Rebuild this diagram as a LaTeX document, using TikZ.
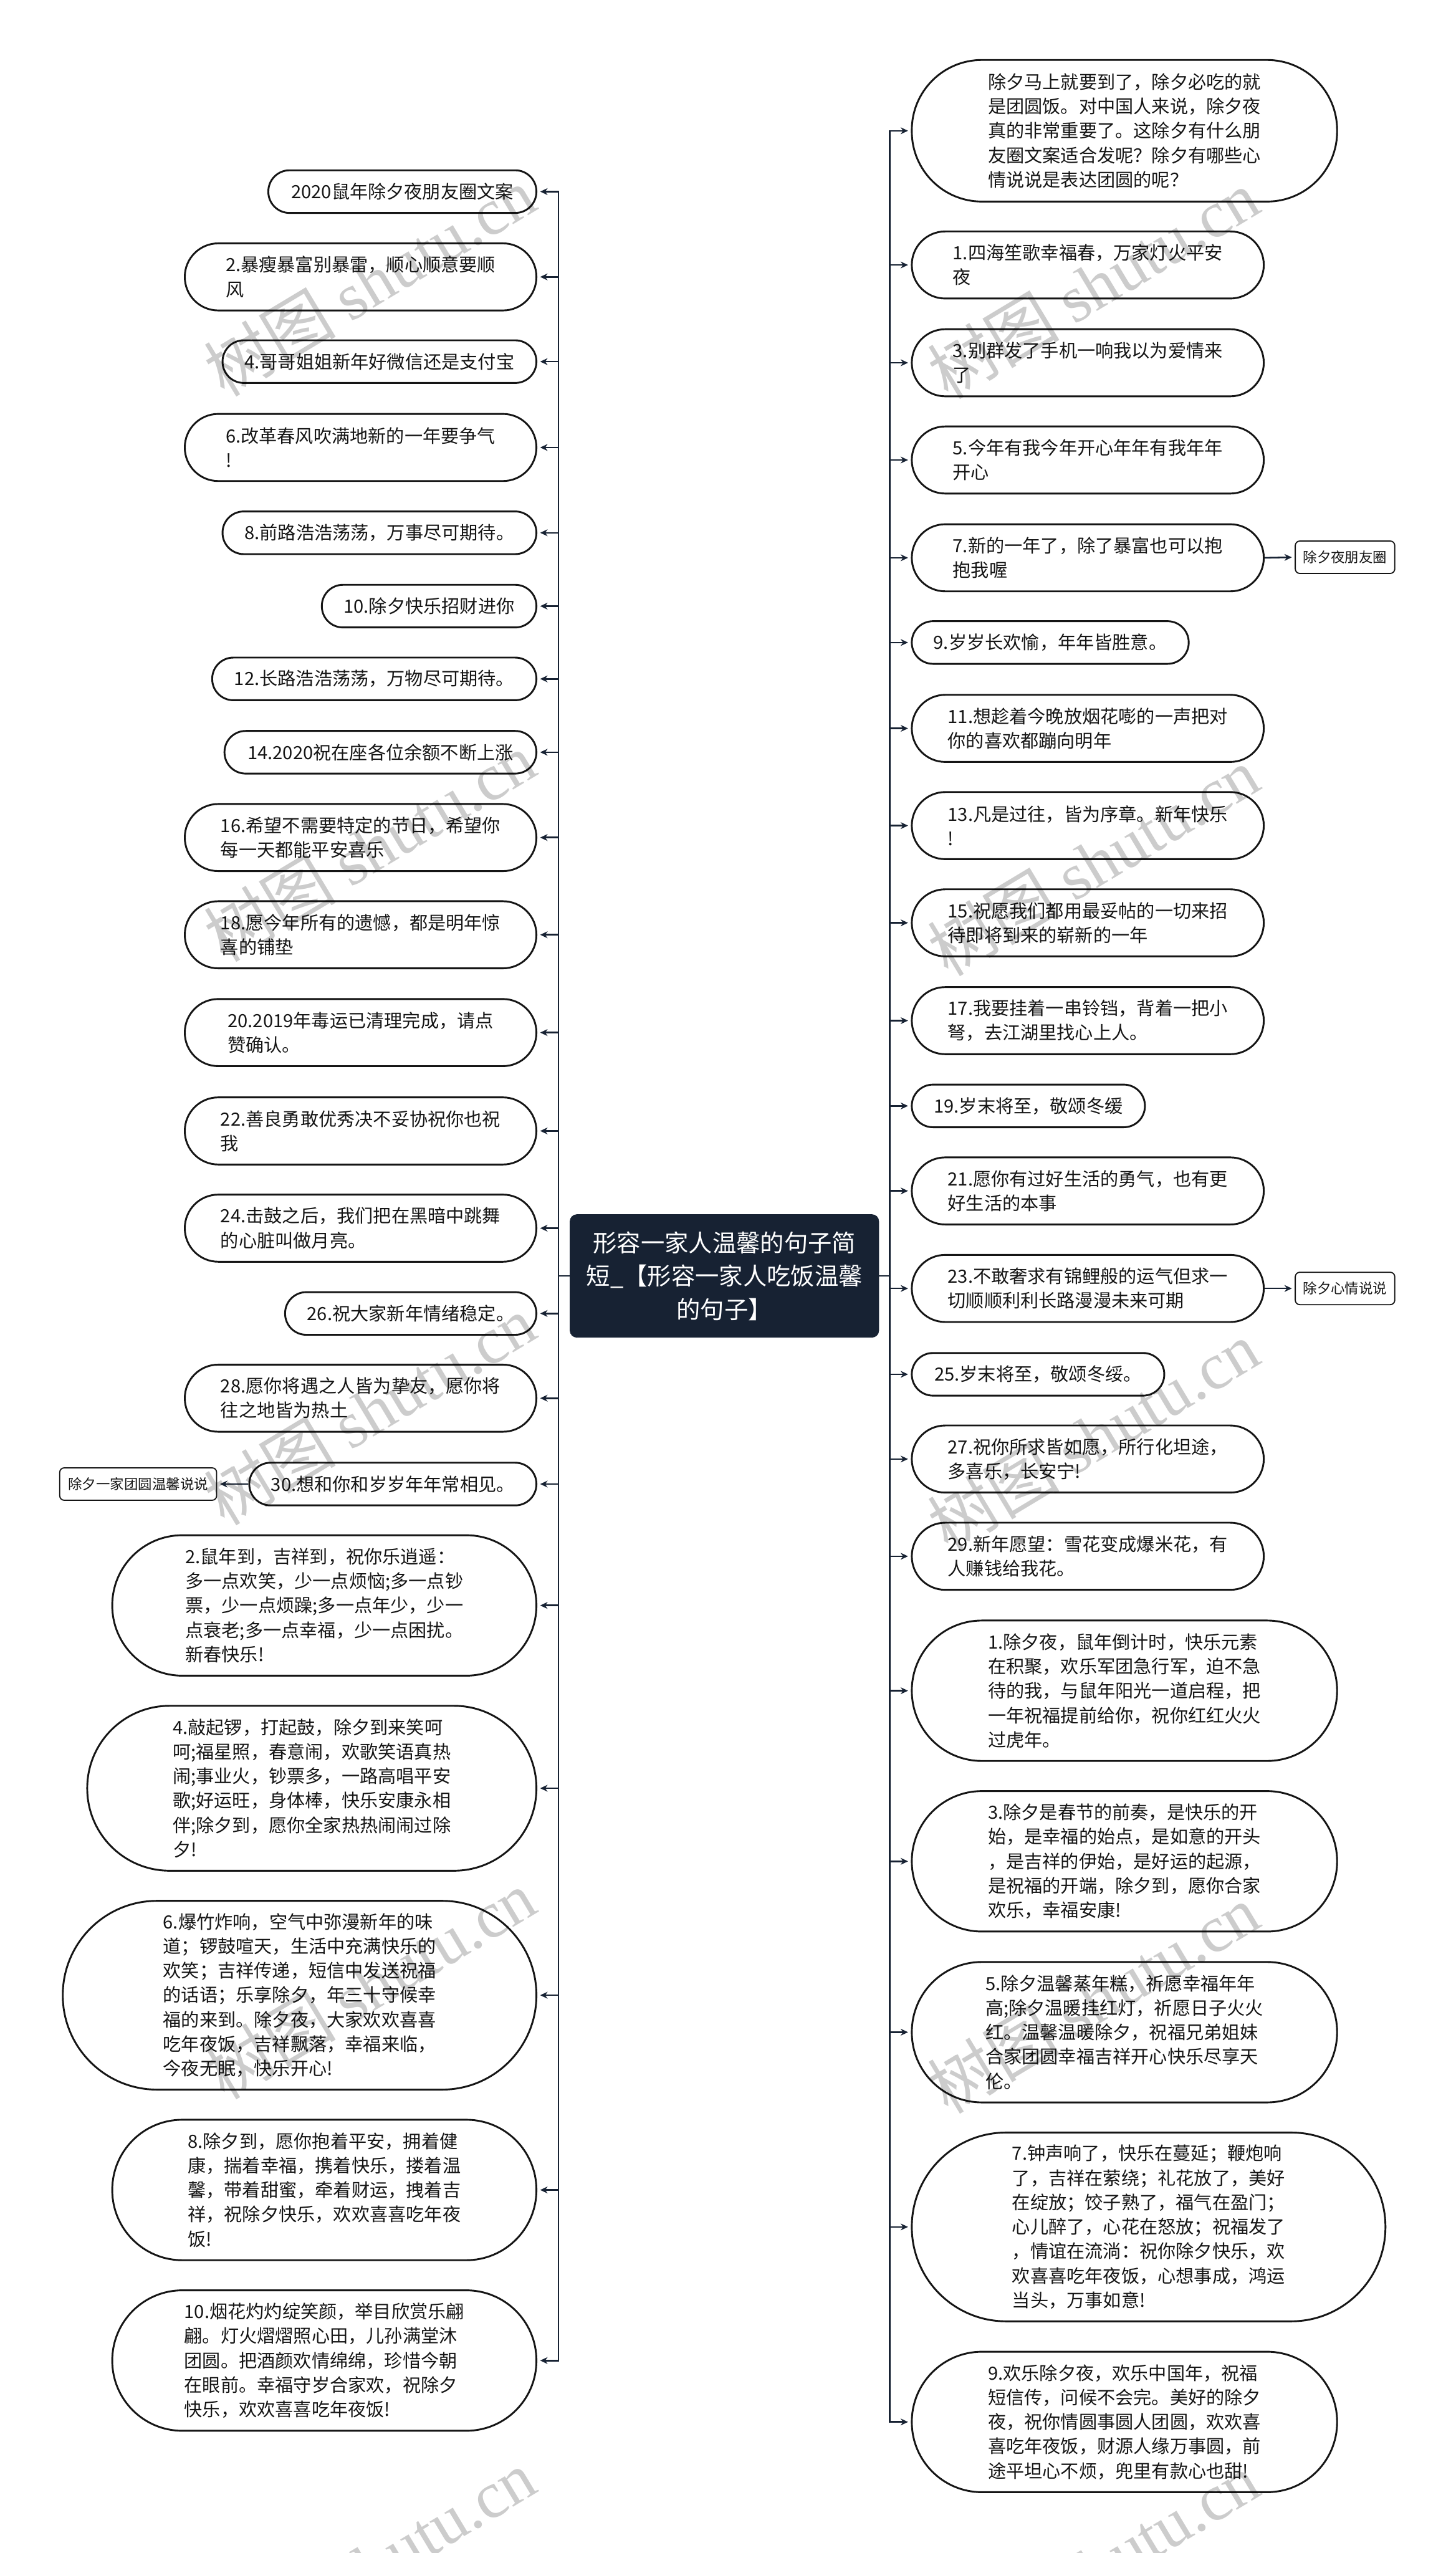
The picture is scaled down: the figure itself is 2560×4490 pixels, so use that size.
\documentclass[tikz,border=0pt]{standalone}
\usepackage{fontspec}
\setmainfont{Noto Sans CJK SC}
\newfontfamily\wmserif{Liberation Serif}
\usetikzlibrary{arrows.meta}
\definecolor{navy}{HTML}{172233}
\definecolor{ink}{HTML}{151515}
\tikzset{
  leaf/.style={draw=ink, line width=1.6pt, fill=white, text=ink, align=left, inner sep=2pt,
    font=\fontsize{16pt}{21.5pt}\selectfont},
  s1/.style={minimum height=37.5pt, rounded corners=18.6pt},
  s2/.style={minimum height=59pt, rounded corners=29.4pt},
  s5/.style={minimum height=123.5pt, rounded corners=61.6pt},
  s6/.style={minimum height=145pt, rounded corners=72.4pt},
  s7/.style={minimum height=166pt, rounded corners=82.9pt},
  subbox/.style={draw=ink, line width=1pt, rounded corners=4pt, fill=white, text=ink,
    font=\fontsize{12.3pt}{15pt}\selectfont, minimum height=28.5pt, inner sep=2pt},
  rootbox/.style={fill=navy, draw=navy, rounded corners=6pt, text=white, align=center,
    font=\fontsize{21pt}{29.3pt}\selectfont, minimum width=271.5pt, minimum height=108pt},
  conn/.style={draw=navy, line width=1.4pt, shorten >=2.5pt, -{Stealth[length=6.5pt,width=6pt]}},
  wmark/.style={rotate=31, text=black, text opacity=0.2, inner sep=0pt,
    font=\fontsize{58pt}{62pt}\selectfont},
}
\newcommand{\wmtext}{树图 {\wmserif shutu.cn}}
\begin{document}
\begin{tikzpicture}[x=0.5pt,y=-0.5pt]
\fill[white] (0,0) rectangle (2560,4490);
\useasboundingbox (0,0) rectangle (2560,4490);
\coordinate (spL) at (982,0);
\coordinate (spR) at (1565,0);

\node[rootbox] (root) at (1274,2244) {形容一家人温馨的句子简\\短\_【形容一家人吃饭温馨\\的句子】};

% left column
\node[leaf,s1,anchor=east,minimum width=235.75pt] (L1) at (945,337) {2020鼠年除夕夜朋友圈文案};
\node[leaf,s2,anchor=east,minimum width=309.2pt] (L2) at (945,487) {2.暴瘦暴富别暴雷，顺心顺意要顺\\风};
\node[leaf,s1,anchor=east,minimum width=276pt] (L3) at (945,636) {4.哥哥姐姐新年好微信还是支付宝};
\node[leaf,s2,anchor=east,minimum width=309.2pt] (L4) at (945,787) {6.改革春风吹满地新的一年要争气\\!};
\node[leaf,s1,anchor=east,minimum width=276pt] (L5) at (945,937) {8.前路浩浩荡荡，万事尽可期待。};
\node[leaf,s1,anchor=east,minimum width=188.7pt] (L6) at (945,1066) {10.除夕快乐招财进你};
\node[leaf,s1,anchor=east,minimum width=285.1pt] (L7) at (945,1194) {12.长路浩浩荡荡，万物尽可期待。};
\node[leaf,s1,anchor=east,minimum width=274.3pt] (L8) at (945,1323) {14.2020祝在座各位余额不断上涨};
\node[leaf,s2,anchor=east,minimum width=309.2pt] (L9) at (945,1473) {16.希望不需要特定的节日，希望你\\每一天都能平安喜乐};
\node[leaf,s2,anchor=east,minimum width=309.2pt] (L10) at (945,1644) {18.愿今年所有的遗憾，都是明年惊\\喜的铺垫};
\node[leaf,s2,anchor=east,minimum width=309.2pt] (L11) at (945,1816) {20.2019年毒运已清理完成，请点\\赞确认。};
\node[leaf,s2,anchor=east,minimum width=309.2pt] (L12) at (945,1989) {22.善良勇敢优秀决不妥协祝你也祝\\我};
\node[leaf,s2,anchor=east,minimum width=309.2pt] (L13) at (945,2160) {24.击鼓之后，我们把在黑暗中跳舞\\的心脏叫做月亮。};
\node[leaf,s1,anchor=east,minimum width=221pt] (L14) at (945,2310) {26.祝大家新年情绪稳定。};
\node[leaf,s2,anchor=east,minimum width=309.2pt] (L15) at (945,2459) {28.愿你将遇之人皆为挚友，愿你将\\往之地皆为热土};
\node[leaf,s1,anchor=east,minimum width=252.5pt] (L16) at (945,2610) {30.想和你和岁岁年年常相见。};
\node[leaf,s5,anchor=east,minimum width=373pt] (L17) at (945,2823.5) {2.鼠年到，吉祥到，祝你乐逍遥：\\多一点欢笑，少一点烦恼;多一点钞\\票，少一点烦躁;多一点年少，少一\\点衰老;多一点幸福，少一点困扰。\\新春快乐!};
\node[leaf,s6,anchor=east,minimum width=395pt] (L18) at (945,3145) {4.敲起锣，打起鼓，除夕到来笑呵\\呵;福星照，春意闹，欢歌笑语真热\\闹;事业火，钞票多，一路高唱平安\\歌;好运旺，身体棒，快乐安康永相\\伴;除夕到，愿你全家热热闹闹过除\\夕!};
\node[leaf,s7,anchor=east,minimum width=416.5pt] (L19) at (945,3509) {6.爆竹炸响，空气中弥漫新年的味\\道；锣鼓喧天，生活中充满快乐的\\欢笑；吉祥传递，短信中发送祝福\\的话语；乐享除夕，年三十守候幸\\福的来到。除夕夜，大家欢欢喜喜\\吃年夜饭，吉祥飘落，幸福来临，\\今夜无眠，快乐开心!};
\node[leaf,s5,anchor=east,minimum width=373pt] (L20) at (945,3851.5) {8.除夕到，愿你抱着平安，拥着健\\康，揣着幸福，携着快乐，搂着温\\馨，带着甜蜜，牵着财运，拽着吉\\祥，祝除夕快乐，欢欢喜喜吃年夜\\饭!};
\node[leaf,s5,anchor=east,minimum width=373pt] (L21) at (945,4151.5) {10.烟花灼灼绽笑颜，举目欣赏乐翩\\翩。灯火熠熠照心田，儿孙满堂沐\\团圆。把酒颜欢情绵绵，珍惜今朝\\在眼前。幸福守岁合家欢，祝除夕\\快乐，欢欢喜喜吃年夜饭!};
\node[subbox,anchor=east,minimum width=138pt] (C3) at (382,2610) {除夕一家团圆温馨说说};

% right column
\node[leaf,s5,anchor=west,minimum width=374pt,minimum height=124.5pt] (R0) at (1602,230) {除夕马上就要到了，除夕必吃的就\\是团圆饭。对中国人来说，除夕夜\\真的非常重要了。这除夕有什么朋\\友圈文案适合发呢？除夕有哪些心\\情说说是表达团圆的呢？};
\node[leaf,s2,anchor=west,minimum width=309.5pt] (R1) at (1602,466) {1.四海笙歌幸福春，万家灯火平安\\夜};
\node[leaf,s2,anchor=west,minimum width=309.5pt] (R2) at (1602,638) {3.别群发了手机一响我以为爱情来\\了};
\node[leaf,s2,anchor=west,minimum width=309.5pt] (R3) at (1602,809) {5.今年有我今年开心年年有我年年\\开心};
\node[leaf,s2,anchor=west,minimum width=309.5pt] (R4) at (1602,981) {7.新的一年了，除了暴富也可以抱\\抱我喔};
\node[leaf,s1,anchor=west,minimum width=243.5pt] (R5) at (1602,1130) {9.岁岁长欢愉，年年皆胜意。};
\node[leaf,s2,anchor=west,minimum width=309.5pt] (R6) at (1602,1281) {11.想趁着今晚放烟花嘭的一声把对\\你的喜欢都蹦向明年};
\node[leaf,s2,anchor=west,minimum width=309.5pt] (R7) at (1602,1452) {13.凡是过往，皆为序章。新年快乐\\!};
\node[leaf,s2,anchor=west,minimum width=309.5pt] (R8) at (1602,1623) {15.祝愿我们都用最妥帖的一切来招\\待即将到来的崭新的一年};
\node[leaf,s2,anchor=west,minimum width=309.5pt] (R9) at (1602,1795) {17.我要挂着一串铃铛，背着一把小\\弩，去江湖里找心上人。};
\node[leaf,s1,anchor=west,minimum width=205pt] (R10) at (1602,1945) {19.岁末将至，敬颂冬缓};
\node[leaf,s2,anchor=west,minimum width=309.5pt] (R11) at (1602,2094.5) {21.愿你有过好生活的勇气，也有更\\好生活的本事};
\node[leaf,s2,anchor=west,minimum width=309.5pt] (R12) at (1602,2266) {23.不敢奢求有锦鲤般的运气但求一\\切顺顺利利长路漫漫未来可期};
\node[leaf,s1,anchor=west,minimum width=222pt] (R13) at (1602,2417) {25.岁末将至，敬颂冬绥。};
\node[leaf,s2,anchor=west,minimum width=309.5pt] (R14) at (1602,2566) {27.祝你所求皆如愿，所行化坦途，\\多喜乐，长安宁!};
\node[leaf,s2,anchor=west,minimum width=309.5pt] (R15) at (1602,2737) {29.新年愿望：雪花变成爆米花，有\\人赚钱给我花。};
\node[leaf,s5,anchor=west,minimum width=374pt] (R16) at (1602,2973.5) {1.除夕夜，鼠年倒计时，快乐元素\\在积聚，欢乐军团急行军，迫不急\\待的我，与鼠年阳光一道启程，把\\一年祝福提前给你，祝你红红火火\\过虎年。};
\node[leaf,s5,anchor=west,minimum width=374pt] (R17) at (1602,3273.5) {3.除夕是春节的前奏，是快乐的开\\始，是幸福的始点，是如意的开头\\，是吉祥的伊始，是好运的起源，\\是祝福的开端，除夕到，愿你合家\\欢乐，幸福安康!};
\node[leaf,s5,anchor=west,minimum width=374pt] (R18) at (1602,3574) {5.除夕温馨蒸年糕，祈愿幸福年年\\高;除夕温暖挂红灯，祈愿日子火火\\红。温馨温暖除夕，祝福兄弟姐妹\\合家团圆幸福吉祥开心快乐尽享天\\伦。};
\node[leaf,s7,anchor=west,minimum width=416.5pt] (R19) at (1602,3916.5) {7.钟声响了，快乐在蔓延；鞭炮响\\了，吉祥在萦绕；礼花放了，美好\\在绽放；饺子熟了，福气在盈门；\\心儿醉了，心花在怒放；祝福发了\\，情谊在流淌：祝你除夕快乐，欢\\欢喜喜吃年夜饭，心想事成，鸿运\\当头，万事如意!};
\node[leaf,s5,anchor=west,minimum width=374pt] (R20) at (1602,4259.5) {9.欢乐除夕夜，欢乐中国年，祝福\\短信传，问候不会完。美好的除夕\\夜，祝你情圆事圆人团圆，欢欢喜\\喜吃年夜饭，财源人缘万事圆，前\\途平坦心不烦，兜里有款心也甜!};
\node[subbox,anchor=west,minimum width=87.5pt] (C1) at (2277,980) {除夕夜朋友圈};
\node[subbox,anchor=west,minimum width=87.5pt] (C2) at (2277,2266) {除夕心情说说};

% connectors
\foreach \n in {L1,L2,L3,L4,L5,L6,L7,L8,L9,L10,L11,L12,L13,L14,L15,L16,L17,L18,L19,L20,L21}
  \draw[conn] (root.west) -- (root.west -| spL) |- (\n.east);
\foreach \n in {R0,R1,R2,R3,R4,R5,R6,R7,R8,R9,R10,R11,R12,R13,R14,R15,R16,R17,R18,R19,R20}
  \draw[conn] (root.east) -- (root.east -| spR) |- (\n.west);
\draw[conn] (R4.east) -- (C1.west);
\draw[conn] (R12.east) -- (C2.west);
\draw[conn] (L16.west) -- (C3.east);

% watermark of the source, overlaid as in the reference
\node[wmark] (wm1) at (650,495) {\wmtext};
\node[wmark] (wm2) at (650,1490) {\wmtext};
\node[wmark] (wm3) at (650,2480) {\wmtext};
\node[wmark] (wm4) at (650,3490) {\wmtext};
\node[wmark] (wm5) at (650,4510) {\wmtext};
\node[wmark] (wm6) at (1923,500) {\wmtext};
\node[wmark] (wm7) at (1923,1515) {\wmtext};
\node[wmark] (wm8) at (1923,2525) {\wmtext};
\node[wmark] (wm9) at (1923,3515) {\wmtext};
\node[wmark] (wm10) at (1923,4515) {\wmtext};
\end{tikzpicture}
\end{document}
